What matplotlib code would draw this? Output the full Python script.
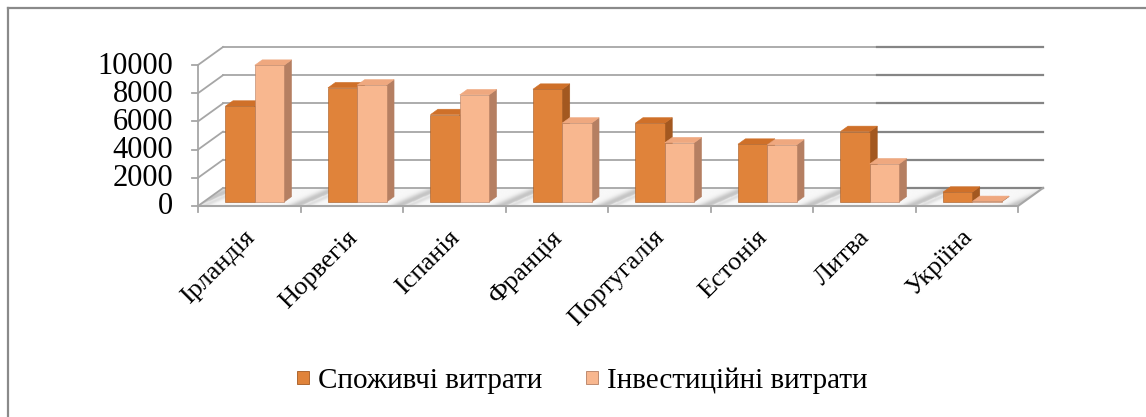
import numpy as np
import matplotlib.pyplot as plt
from matplotlib.patches import Polygon, Patch
from matplotlib.lines import Line2D

plt.rcParams['font.family'] = ['Liberation Serif', 'Tinos', 'PT Serif', 'DejaVu Serif']

# дані
countries = ['Ірландія', 'Норвегія', 'Іспанія', 'Франція', 'Португалія', 'Естонія', 'Литва', 'Укріїна']
consumer = [6800, 8100, 6200, 8000, 5600, 4100, 5000, 700]
investment = [9700, 8300, 7600, 5600, 4200, 4050, 2700, 40]
series_names = ['Споживчі витрати', 'Інвестиційні витрати']
y_ticks = [0, 2000, 4000, 6000, 8000, 10000]

# кольори граней: передня, верхня, бічна
face_colors = [('#E0833A', '#CF7029', '#A35820'),
               ('#F8B78F', '#EFA87F', '#B57F62')]

W, H = 1146, 417
cat_px = 102.5          # ширина категорії в пікселях
val_px = 141 / 10000    # пікселів на одиницю значення
x0_px, y0_px = 198, 206

fig = plt.figure(figsize=(W / 100, H / 100), dpi=100)
ax = fig.add_axes([0, 0, 1, 1])
ax.set_xlim(-x0_px / cat_px, (W - x0_px) / cat_px)
ax.set_ylim(-(H - y0_px) / val_px, y0_px / val_px)
ax.axis('off')

n = len(countries)
DX = 25 / cat_px        # глибина по осі x
DY = 18 / val_px        # глибина по осі y
grid_c = '#a6a6a6'

# підлога з тінями
floor = Polygon([(0, 0), (n, 0), (n + DX, DY), (DX, DY)], closed=True,
                facecolor='none', edgecolor='none', zorder=1)
ax.add_patch(floor)
xs = np.linspace(0, n + DX, 900)
ys = np.linspace(0, DY, 40)
XX, YY = np.meshgrid(xs, ys)
skew = (XX - YY / DY * DX * 1.6) % 1.0
shade = 0.97 - 0.2 * np.exp(-((skew - 0.95) / 0.09) ** 2) - 0.1 * np.exp(-((skew - 0.05) / 0.05) ** 2)
img = ax.imshow(shade, cmap='gray', vmin=0, vmax=1, extent=[0, n + DX, 0, DY],
                origin='lower', aspect='auto', zorder=1, interpolation='bilinear')
img.set_clip_path(floor)

# сітка на задній та лівій стінках
split_x = (877 - x0_px) / cat_px
for v in y_ticks:
    ax.plot([DX, split_x], [v + DY, v + DY], color=grid_c, lw=1.3, zorder=2)
    ax.plot([split_x, n + DX], [v + DY, v + DY], color='#858585', lw=1.6, zorder=2)
    ax.plot([0, DX], [v, v + DY], color=grid_c, lw=1.3, zorder=2)
    ax.plot([-6 / cat_px, 0], [v, v], color=grid_c, lw=1.3, zorder=2)
    ax.text(-25 / cat_px, v - 1 / val_px, f'{v}', ha='right', va='center',
            fontsize=22, color='black')
ax.plot([0, 0], [0, y_ticks[-1]], color=grid_c, lw=1.3, zorder=2)

# передній край підлоги і вісь категорій
ax.plot([0, n], [0, 0], color=grid_c, lw=1.5, zorder=3)
ax.plot([n, n + DX], [0, DY], color=grid_c, lw=1.5, zorder=3)
for k in range(n + 1):
    ax.plot([k, k], [0, -6 / val_px], color=grid_c, lw=1.3, zorder=3)

# стовпчики
bw = 1 / 3.5
f0, f1 = 0.22, 0.52
d = f1 - f0
for i in range(n):
    for s, vals in enumerate([consumer, investment]):
        v = vals[i]
        fc, tc, sc = face_colors[s]
        xl = i + 0.75 * bw + s * bw + f0 * DX
        yb = f0 * DY
        yt = yb + v
        front = Polygon([(xl, yb), (xl + bw, yb), (xl + bw, yt), (xl, yt)],
                        facecolor=fc, edgecolor=sc, lw=0.4, zorder=4)
        top = Polygon([(xl, yt), (xl + bw, yt), (xl + bw + d * DX, yt + d * DY),
                       (xl + d * DX, yt + d * DY)],
                      facecolor=tc, edgecolor=tc, lw=0.4, zorder=4)
        side = Polygon([(xl + bw, yb), (xl + bw + d * DX, yb + d * DY),
                        (xl + bw + d * DX, yt + d * DY), (xl + bw, yt)],
                       facecolor=sc, edgecolor=sc, lw=0.4, zorder=4)
        for p in (side, top, front):
            ax.add_patch(p)

# підписи категорій
for i, name in enumerate(countries):
    ax.text(i + 0.5 + 2 / cat_px, -28 / val_px, name, rotation=45,
            rotation_mode='anchor', ha='right', va='center', fontsize=19)

# легенда
handles = [Patch(facecolor=face_colors[s][0], edgecolor=face_colors[s][2], lw=0.6)
           for s in range(2)]
ax.legend(handles, series_names, loc='center', bbox_to_anchor=(582 / W, 1 - 381 / H),
          bbox_transform=fig.transFigure, ncol=2, frameon=False, fontsize=21,
          handlelength=0.42, handleheight=0.32, handletextpad=0.3,
          columnspacing=1.5, borderpad=0)

# рамка діаграми
fig.add_artist(Line2D([8 / W, 8 / W], [0, 1 - 8 / H], color='#8a8a8a', lw=1.6))
fig.add_artist(Line2D([8 / W, 1], [1 - 8 / H, 1 - 8 / H], color='#8a8a8a', lw=1.6))

fig.savefig('out.png', dpi=100, facecolor='white')
